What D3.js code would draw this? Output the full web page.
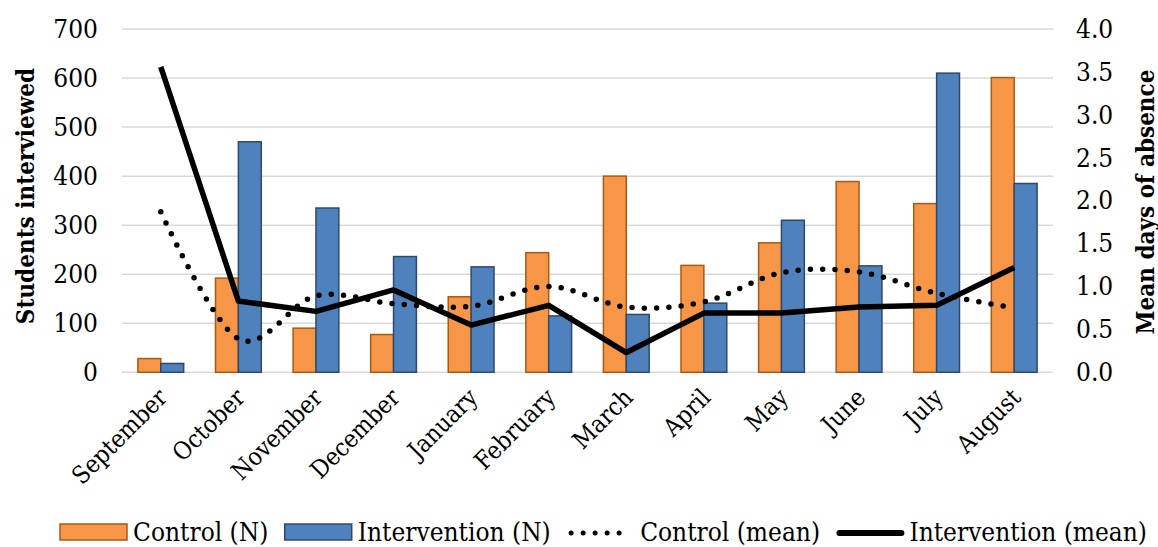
<!DOCTYPE html>
<html>
<head>
<meta charset="utf-8">
<script src="https://cdn.jsdelivr.net/npm/d3@7"></script>
<style>
  html, body { margin: 0; padding: 0; background: #fff; }
  svg { display: block; }
  svg text { font-family: "DejaVu Serif Condensed", "DejaVu Serif", serif !important; font-stretch: condensed; }
</style>
</head>
<body>
<svg id="chart" width="1158" height="547"></svg>
<script>
// Monthly interview counts and mean days of absence, control vs intervention
const months = ["September", "October", "November", "December", "January", "February",
                "March", "April", "May", "June", "July", "August"];
const controlN      = [28, 192, 90, 77, 154, 244, 400, 218, 264, 389, 344, 601];
const interventionN = [18, 470, 335, 236, 215, 115, 118, 141, 310, 217, 610, 385];
const controlMean      = [1.87, 0.39, 0.89, 0.80, 0.77, 1.00, 0.76, 0.82, 1.16, 1.17, 0.92, 0.75];
const interventionMean = [3.56, 0.83, 0.71, 0.96, 0.55, 0.78, 0.23, 0.69, 0.69, 0.76, 0.78, 1.22];
const leftTicks  = [0, 100, 200, 300, 400, 500, 600, 700];
const rightTicks = [0, 0.5, 1.0, 1.5, 2.0, 2.5, 3.0, 3.5, 4.0];
const seriesNames = ["Control (N)", "Intervention (N)", "Control (mean)", "Intervention (mean)"];

const svg = d3.select("#chart");
const plot = { left: 122, right: 1053, top: 29, bottom: 372.3 };
const FS = 26;
const ORANGE = "#f79646", ORANGE_EDGE = "#a95a12";
const BLUE = "#4f81bd", BLUE_EDGE = "#2c4a6e";

const x = d3.scaleBand().domain(months).range([plot.left, plot.right])
  .paddingInner(0.41).paddingOuter(0.205);
const xs = d3.scaleBand().domain(["control", "intervention"]).range([0, x.bandwidth()]);
const yL = d3.scaleLinear().domain([0, 700]).range([plot.bottom, plot.top]);
const yR = d3.scaleLinear().domain([0, 4]).range([plot.bottom, plot.top]);
const cx = m => x(m) + x.bandwidth() / 2;

// horizontal gridlines
svg.append("g").selectAll("line").data(leftTicks).join("line")
  .attr("x1", plot.left).attr("x2", plot.right)
  .attr("y1", d => yL(d)).attr("y2", d => yL(d))
  .attr("stroke", "#d9d9d9").attr("stroke-width", 1.5);

// left axis
const axL = svg.append("g").attr("transform", `translate(${plot.left - 24},0)`)
  .call(d3.axisLeft(yL).tickValues(leftTicks).tickSize(0).tickPadding(0));
axL.select(".domain").remove();
axL.selectAll("text").attr("font-size", FS).attr("fill", "#000");

// right axis
const axR = svg.append("g").attr("transform", `translate(${plot.right + 23},0)`)
  .call(d3.axisRight(yR).tickValues(rightTicks).tickSize(0).tickPadding(0).tickFormat(d3.format(".1f")));
axR.select(".domain").remove();
axR.selectAll("text").attr("font-size", FS).attr("fill", "#000");

// axis titles
svg.append("text").attr("transform", "translate(25,196) rotate(-90)")
  .attr("text-anchor", "middle").attr("dominant-baseline", "central")
  .attr("font-size", 24).attr("font-weight", "bold").text("Students interviewed");
svg.append("text").attr("transform", "translate(1145,202) rotate(-90)")
  .attr("text-anchor", "middle").attr("dominant-baseline", "central")
  .attr("font-size", 24).attr("font-weight", "bold").text("Mean days of absence");

// month labels
svg.append("g").selectAll("text").data(months).join("text")
  .attr("transform", d => `translate(${cx(d) + 8},399) rotate(-45)`)
  .attr("text-anchor", "end").attr("font-size", 24.5).text(d => d);

// bars
const bars = svg.append("g");
bars.selectAll("rect.c").data(months).join("rect").attr("class", "c")
  .attr("x", (d) => x(d) + xs("control"))
  .attr("width", xs.bandwidth())
  .attr("y", (d, i) => yL(controlN[i]))
  .attr("height", (d, i) => yL(0) - yL(controlN[i]))
  .attr("fill", ORANGE).attr("stroke", ORANGE_EDGE).attr("stroke-width", 1.5);
bars.selectAll("rect.i").data(months).join("rect").attr("class", "i")
  .attr("x", (d) => x(d) + xs("intervention"))
  .attr("width", xs.bandwidth())
  .attr("y", (d, i) => yL(interventionN[i]))
  .attr("height", (d, i) => yL(0) - yL(interventionN[i]))
  .attr("fill", BLUE).attr("stroke", BLUE_EDGE).attr("stroke-width", 1.5);

// control mean: smoothed dotted line
const smooth = d3.line().x((d, i) => cx(months[i])).y(d => yR(d)).curve(d3.curveCardinal.tension(0));
svg.append("path").datum(controlMean).attr("d", smooth)
  .attr("fill", "none").attr("stroke", "#000").attr("stroke-width", 5.5)
  .attr("stroke-linecap", "round").attr("stroke-dasharray", "0 12.3");

// intervention mean: solid line
const straight = d3.line().x((d, i) => cx(months[i])).y(d => yR(d));
svg.append("path").datum(interventionMean).attr("d", straight)
  .attr("fill", "none").attr("stroke", "#000").attr("stroke-width", 5.5)
  .attr("stroke-linejoin", "round");

// legend: symbol + label, laid out left to right across the bottom
const leg = svg.append("g");
const ly = 532, symW = 67, symGap = 6, legLeft = 60, legRight = 1147;
const items = seriesNames.map((name, i) => {
  const g = leg.append("g");
  if (i === 0 || i === 1) {
    g.append("rect").attr("x", 0).attr("y", ly - 8).attr("width", symW).attr("height", 16)
      .attr("fill", i === 0 ? ORANGE : BLUE).attr("stroke", i === 0 ? ORANGE_EDGE : BLUE_EDGE)
      .attr("stroke-width", 1.5);
  } else if (i === 2) {
    g.append("line").attr("x1", 4).attr("x2", symW - 4).attr("y1", ly + 1).attr("y2", ly + 1)
      .attr("stroke", "#000").attr("stroke-width", 5).attr("stroke-linecap", "round")
      .attr("stroke-dasharray", "0 12");
  } else {
    g.append("line").attr("x1", 3).attr("x2", symW - 2).attr("y1", ly + 1).attr("y2", ly + 1)
      .attr("stroke", "#000").attr("stroke-width", 6).attr("stroke-linecap", "round");
  }
  const t = g.append("text").attr("x", symW + symGap).attr("y", ly).attr("dy", "0.35em")
    .attr("font-size", FS).text(name);
  return { g, w: symW + symGap + t.node().getComputedTextLength() };
});
const totalW = d3.sum(items, d => d.w);
const gap = Math.max(8, (legRight - legLeft - totalW) / (items.length - 1));
let lx = legLeft;
items.forEach(it => { it.g.attr("transform", `translate(${lx},0)`); lx += it.w + gap; });
</script>
</body>
</html>
